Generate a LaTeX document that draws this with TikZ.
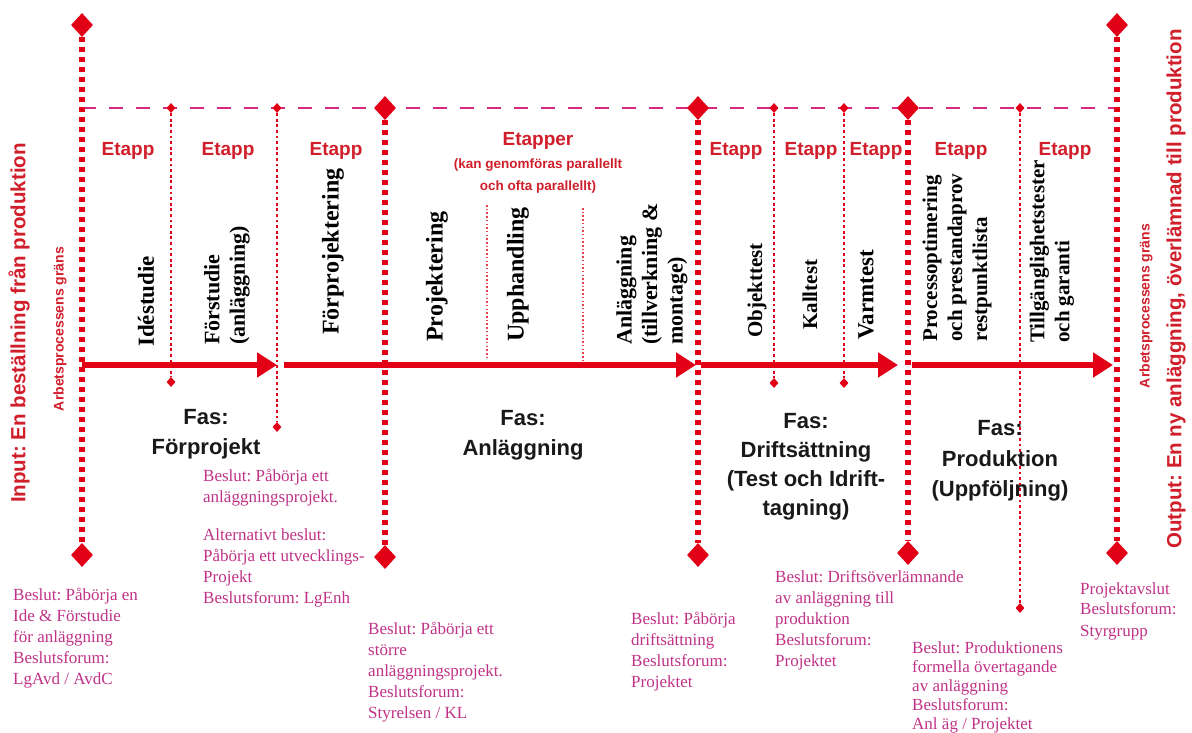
\documentclass[tikz,border=0pt]{standalone}
\usepackage{fontspec}
\setmainfont{Liberation Serif}
\setsansfont{Liberation Sans}
\usetikzlibrary{shapes.geometric,arrows.meta}
\frenchspacing

\definecolor{linered}{RGB}{226,0,22}
\definecolor{etappred}{RGB}{208,30,42}
\definecolor{dashpink}{RGB}{214,40,124}
\definecolor{beslutpink}{RGB}{192,50,134}

\tikzset{
  bigdia/.style={diamond, fill=linered, inner sep=0pt, minimum width=22pt, minimum height=24pt},
  smalldia/.style={diamond, fill=linered, inner sep=0pt, minimum width=9pt, minimum height=10pt},
  border/.style={linered, line width=5.5pt, dash pattern=on 5pt off 5pt},
  etappline/.style={linered, line width=2.8pt, dash pattern=on 2.8pt off 2.8pt},
  subline/.style={linered!75, line width=1.5pt, dash pattern=on 1.5pt off 2.2pt},
  etappdash/.style={dashpink, line width=2.8pt, dash pattern=on 14pt off 13pt},
  flow/.style={linered, line width=5.5pt, -{Triangle[length=20pt,width=24pt]}},
  etapp/.style={text=etappred, font=\sffamily\bfseries\fontsize{19}{22}\selectfont},
  stagebox/.style={rotate=90, anchor=west, align=left, inner sep=0pt,
    font=\bfseries\fontsize{22}{25.5}\selectfont},
  fasbox/.style={align=center, inner sep=0pt, text=black!90,
    font=\sffamily\bfseries\fontsize{22}{30}\selectfont},
  beslut/.style={anchor=north west, align=left, inner sep=0pt, text=beslutpink,
    font=\fontsize{17}{21}\selectfont},
  sidebox/.style={rotate=90, inner sep=0pt, text=etappred,
    font=\sffamily\bfseries\fontsize{20.5}{24}\selectfont},
  grans/.style={rotate=90, inner sep=0pt, text=etappred,
    font=\sffamily\bfseries\fontsize{14}{16}\selectfont}
}

\begin{document}
\begin{tikzpicture}[x=1pt,y=-1pt]
\useasboundingbox (0,0) rectangle (1192,733);

% dashed line of the etapper
\coordinate (dL) at (82,108);
\coordinate (dR) at (1117,108);
\draw[etappdash] (dL) -- (dR);

% etapp borders with small diamonds
\foreach \x/\y [count=\i] in {171/382,277/427,774/383,844/383,1020/608}{
  \node[smalldia] (st\i) at (\x,108) {};
  \node[smalldia] (sb\i) at (\x,\y) {};
  \draw[etappline] (st\i) -- (sb\i);
}
% parallel etapper inside Anlaggning
\coordinate (u1t) at (487,205);
\coordinate (u1b) at (487,357);
\coordinate (u2t) at (583,208);
\coordinate (u2b) at (583,360);
\draw[subline] (u1t) -- (u1b);
\draw[subline] (u2t) -- (u2b);

% phase borders with big diamonds
\node[bigdia] (bL) at (82,25) {};
\node[bigdia] (b1) at (385,108) {};
\node[bigdia] (b2) at (698,108) {};
\node[bigdia] (b3) at (908,108) {};
\node[bigdia] (bR) at (1117,25) {};
\node[bigdia] (bLb) at (82,555) {};
\node[bigdia] (b1b) at (385,557) {};
\node[bigdia] (b2b) at (698,555) {};
\node[bigdia] (b3b) at (908,553) {};
\node[bigdia] (bRb) at (1117,553) {};
\foreach \a/\b in {bL/bLb,b1/b1b,b2/b2b,b3/b3b,bR/bRb}
  \draw[border] (\a) -- (\b);

% flow arrows
\coordinate (a1s) at (82,365);   \coordinate (a1e) at (277,365);
\coordinate (a2s) at (284,365);  \coordinate (a2e) at (696,365);
\coordinate (a3s) at (701,365);  \coordinate (a3e) at (898,365);
\coordinate (a4s) at (912,365);  \coordinate (a4e) at (1113,365);
\draw[flow] (a1s) -- (a1e);
\draw[flow] (a2s) -- (a2e);
\draw[flow] (a3s) -- (a3e);
\draw[flow] (a4s) -- (a4e);

% etapp labels
\foreach \x [count=\i] in {128,228,336,736,811,876,961,1065}
  \node[etapp] (etapp\i) at (\x,151) {Etapp};
\node[etapp] (etapper) at (538,141) {Etapper};
\node[etapp, font=\sffamily\bfseries\fontsize{13.5}{22}\selectfont, align=center]
  (parallel) at (538,176) {(kan genomföras parallellt\\och ofta parallellt)};

% stages, read bottom to top
\node[stagebox, font=\bfseries\fontsize{23}{25.5}\selectfont] (idea) at (146,347) {Idéstudie};
\node[stagebox] (prestudy) at (227,345) {Förstudie\\(anläggning)};
\node[stagebox, font=\bfseries\fontsize{24}{25.5}\selectfont] (preproj) at (333,335) {Förprojektering};
\node[stagebox, font=\bfseries\fontsize{24}{25.5}\selectfont] (proj) at (437,342) {Projektering};
\node[stagebox, font=\bfseries\fontsize{24}{25.5}\selectfont] (procure) at (518,342) {Upphandling};
\node[stagebox] (build) at (652,345) {Anläggning\\(tillverkning \&\\montage)};
\node[stagebox, font=\bfseries\fontsize{21}{25}\selectfont] (objtest) at (757,338) {Objekttest};
\node[stagebox, font=\bfseries\fontsize{21}{25}\selectfont] (coldtest) at (810,330) {Kalltest};
\node[stagebox, font=\bfseries\fontsize{23}{25}\selectfont] (hottest) at (866,340) {Varmtest};
\node[stagebox, font=\bfseries\fontsize{21}{25}\selectfont] (optim) at (957,342)
  {Processoptimering\\och prestandaprov\\restpunktlista};
\node[stagebox, font=\bfseries\fontsize{21}{25}\selectfont] (avail) at (1052,343)
  {Tillgänglighetstester\\och garanti};

% phases
\node[fasbox] (fas1) at (206,434) {Fas:\\Förprojekt};
\node[fasbox] (fas2) at (523,435) {Fas:\\Anläggning};
\node[fasbox, font=\sffamily\bfseries\fontsize{22}{29}\selectfont] (fas3) at (806,467)
  {Fas:\\Driftsättning\\(Test och Idrift-\\tagning)};
\node[fasbox, font=\sffamily\bfseries\fontsize{22}{30.5}\selectfont] (fas4) at (1000,461)
  {Fas:\\Produktion\\(Uppföljning)};

% decisions
\node[beslut] (dec0) at (13,588)
  {Beslut: Påbörja en\\Ide \& Förstudie\\för anläggning\\Beslutsforum:\\LgAvd / AvdC};
\node[beslut] (dec1) at (203,469)
  {Beslut: Påbörja ett\\anläggningsprojekt.\\[17pt]Alternativt beslut:\\Påbörja ett utvecklings-\\Projekt\\Beslutsforum: LgEnh};
\node[beslut] (dec2) at (368,622)
  {Beslut: Påbörja ett\\större\\anläggningsprojekt.\\Beslutsforum:\\Styrelsen / KL};
\node[beslut] (dec3) at (631,612)
  {Beslut: Påbörja\\driftsättning\\Beslutsforum:\\Projektet};
\node[beslut] (dec4) at (775,570)
  {Beslut: Driftsöverlämnande\\av anläggning till\\produktion\\Beslutsforum:\\Projektet};
\node[beslut, font=\fontsize{17}{19}\selectfont] (dec5) at (912,641)
  {Beslut: Produktionens\\formella övertagande\\av anläggning\\Beslutsforum:\\Anl äg / Projektet};
\node[beslut] (dec6) at (1080,582)
  {Projektavslut\\Beslutsforum:\\Styrgrupp};

% process boundaries
\node[sidebox] (input) at (19,323) {Input: En beställning från produktion};
\node[grans] (gransL) at (60,329) {Arbetsprocessens gräns};
\node[grans] (gransR) at (1146,306) {Arbetsprocessens gräns};
\node[sidebox] (output) at (1176,289) {Output: En ny anläggning, överlämnad till produktion};
\end{tikzpicture}
\end{document}
